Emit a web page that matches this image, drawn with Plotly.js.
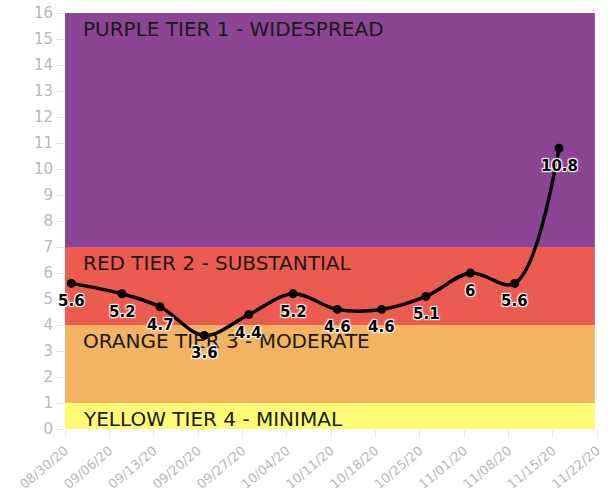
<!DOCTYPE html>
<html>
<head>
<meta charset="utf-8">
<script src="https://cdn.plot.ly/plotly-3.0.1.min.js"></script>
<style>html,body{margin:0;padding:0;background:#fff;}#chart{width:613px;height:502px;}</style>
</head>
<body>
<div id="chart"></div>
<script>
const dates = ["2020-08-31","2020-09-08","2020-09-14","2020-09-21","2020-09-28","2020-10-05","2020-10-12","2020-10-19","2020-10-26","2020-11-02","2020-11-09","2020-11-16"];
const values = [5.6,5.2,4.7,3.6,4.4,5.2,4.6,4.6,5.1,6,5.6,10.8];
const tickDates = ["2020-08-30","2020-09-06","2020-09-13","2020-09-20","2020-09-27","2020-10-04","2020-10-11","2020-10-18","2020-10-25","2020-11-01","2020-11-08","2020-11-15","2020-11-22"];
const tickLabels = ["08/30/20","09/06/20","09/13/20","09/20/20","09/27/20","10/04/20","10/11/20","10/18/20","10/25/20","11/01/20","11/08/20","11/15/20","11/22/20"];
const tierNames = ["YELLOW TIER 4 - MINIMAL","ORANGE TIER 3 - MODERATE","RED TIER 2 - SUBSTANTIAL","PURPLE TIER 1 - WIDESPREAD"];
const tierLow = [0,1,4,7];
const tierHigh = [1,4,7,16];
const tierColors = ["#FEFB74","#F2B462","#EC5B4F","#8C4495"];

const FONT = "DejaVu Sans, sans-serif";
const SHADOW = "1px 1px 1px #fff, -1px -1px 1px #fff, 1px -1px 1px #fff, -1px 1px 1px #fff";

const shapes = tierNames.map((n,i)=>({
  type:"rect", xref:"paper", yref:"y", x0:0, x1:0.996, y0:tierLow[i], y1:tierHigh[i],
  fillcolor:tierColors[i], line:{width:0}, layer:"below"
}));
const tierAnn = tierNames.map((n,i)=>({
  xref:"paper", yref:"y", x:0.031, y:tierHigh[i], yshift:-16, xanchor:"left", yanchor:"middle",
  text:n, showarrow:false, font:{family:FONT, size:20, color:"#1a1a1a"}
}));
const valueAnn = values.map((v,i)=>({
  xref:"x", yref:"y", x:dates[i], y:v, yshift:-18, xanchor:"center", yanchor:"middle",
  text:String(v), showarrow:false,
  font:{family:FONT, size:15, color:"#000", weight:"bold", shadow:SHADOW}
}));

const trace = {
  x:dates, y:values, type:"scatter", mode:"lines+markers",
  line:{color:"#000", width:3.5, shape:"spline", smoothing:1},
  marker:{color:"#000", size:9},
  cliponaxis:false, hoverinfo:"skip"
};

const layout = {
  width:613, height:502,
  margin:{l:65, r:16, t:13, b:73},
  paper_bgcolor:"#fff", plot_bgcolor:"#fff",
  showlegend:false,
  xaxis:{type:"date", range:["2020-08-30","2020-11-22"], tickvals:tickDates, ticktext:tickLabels,
    tickangle:-40, ticks:"outside", ticklen:8, tickcolor:"#e6e6e6", showgrid:false, zeroline:false,
    showline:false, tickfont:{family:FONT, size:13, color:"#b8b8b8"}},
  yaxis:{range:[0,16], tickvals:[0,1,2,3,4,5,6,7,8,9,10,11,12,13,14,15,16], ticks:"outside", ticklen:8,
    tickcolor:"#e6e6e6", showgrid:false, zeroline:false, showline:false,
    tickfont:{family:FONT, size:15, color:"#b8b8b8"}},
  shapes:shapes, annotations:tierAnn.concat(valueAnn)
};
Plotly.newPlot("chart",[trace],layout,{displayModeBar:false, staticPlot:true});
</script>
</body>
</html>
